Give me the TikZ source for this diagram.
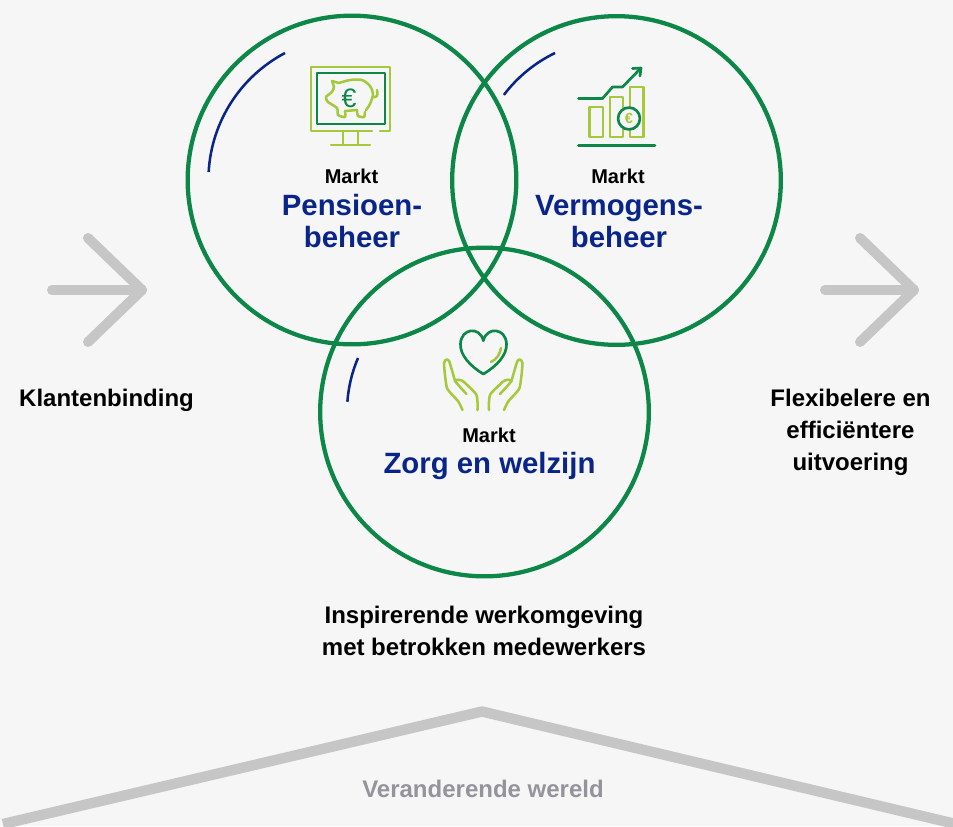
\documentclass[tikz,border=0pt]{standalone}
\usepackage{fontspec}
\setmainfont{Liberation Sans}
\newcommand{\lbl}{\fontsize{18pt}{24pt}\selectfont\bfseries}
\newcommand{\markt}{\fontsize{15pt}{18pt}\selectfont\bfseries}
\newcommand{\titel}{\fontsize{22pt}{24pt}\selectfont\bfseries}
\definecolor{achter}{HTML}{F6F6F6}
\definecolor{groen}{HTML}{0C8748}
\definecolor{lime}{HTML}{A6C93C}
\definecolor{blauw}{HTML}{0A2589}
\definecolor{grijs}{HTML}{C6C6C6}
\definecolor{tekstgrijs}{HTML}{94949C}
\tikzset{
  marktcircle/.style={circle,draw=groen,line width=3.2pt,minimum size=246.5pt,inner sep=0pt},
  bluearc/.style={blauw,line width=1.9pt},
  greyarrow/.style={grijs,line width=7.5pt,line cap=round,line join=round},
  iconlime/.style={lime,line width=1.9pt,line join=round,line cap=round},
  icongreen/.style={groen,line width=2pt,line join=round,line cap=round},
  txt/.style={black,align=center,inner sep=0pt,font=\lbl},
  markttxt/.style={black,inner sep=0pt,font=\markt},
  titeltxt/.style={blauw,align=center,inner sep=0pt,font=\titel}
}
\begin{document}
\begin{tikzpicture}[x=.75pt,y=-.75pt]
\useasboundingbox (0,0) rectangle (953,826);
\fill[achter] (0,0) rectangle (953,826);

% de drie markten
\node[marktcircle] (pensioen) at (352,180) {};
\node[marktcircle] (vermogen) at (616.5,180.5) {};
\node[marktcircle] (zorg) at (484.5,412) {};

\draw[bluearc] (285,53) arc[start angle=117.8,end angle=176.8,radius=107.6pt];
\draw[bluearc] (555,53) arc[start angle=115.8,end angle=142.9,radius=105.8pt];
\draw[bluearc] (358,358) arc[start angle=156.9,end angle=175.8,radius=102.8pt];

\node[markttxt] (marktp) at (351.5,176) {Markt};
\node[titeltxt] (titelp) at (352,225) {\strut Pensioen-\\beheer\strut};
\node[markttxt] (marktv) at (618,176) {Markt};
\node[titeltxt] (titelv) at (619,225) {\strut Vermogens-\\beheer\strut};
\node[markttxt] (marktz) at (489,435) {Markt};
\node[titeltxt] (titelz) at (489.5,467) {\strut Zorg en welzijn};

% pijlen links en rechts
\coordinate (linksa) at (52,290);
\coordinate (linksb) at (142,290);
\coordinate (linksc) at (88,238);
\coordinate (linksd) at (88,342);
\draw[greyarrow] (linksa) -- (linksb);
\draw[greyarrow] (linksc) -- (linksb) -- (linksd);
\coordinate (rechtsa) at (825,290);
\coordinate (rechtsb) at (914,290);
\coordinate (rechtsc) at (860,238);
\coordinate (rechtsd) at (860,342);
\draw[greyarrow] (rechtsa) -- (rechtsb);
\draw[greyarrow] (rechtsc) -- (rechtsb) -- (rechtsd);

\node[txt] (klant) at (106.5,400) {\strut Klantenbinding};
\node[txt] (flex) at (850.5,432) {\strut Flexibelere en\\efficiëntere\\uitvoering\strut};
\node[txt] (inspi) at (484,633) {\strut Inspirerende werkomgeving\\met betrokken medewerkers\strut};

% dak onderaan
\coordinate (dakl) at (3,824);
\coordinate (daktop) at (482,711.5);
\coordinate (dakr) at (960,825);
\draw[grijs,line width=7.8pt,line join=round] (dakl) -- (daktop) -- (dakr);
\node[txt,text=tekstgrijs] (wereld) at (483,791) {\strut Veranderende wereld};

% spaarvarken op scherm
\draw[iconlime] (372,131) -- (311,131) -- (311,67) -- (390,67) -- (390,131) -- (380,131);
\draw[icongreen] (317,73) rectangle (385,124);
\draw[iconlime] (343,131) -- (343,145);
\draw[iconlime] (358,131) -- (358,145);
\draw[iconlime] (331,145) -- (370,145);
\draw[iconlime] plot[smooth,tension=.5] coordinates {(339,83) (350,80) (362,80) (370,86) (373,94) (370,104) (366,110)};
\draw[iconlime] plot[smooth,tension=.4] coordinates {(365,112) (364,117) (358,116) (357,110)};
\draw[iconlime] (357,110) -- (345,111);
\draw[iconlime] plot[smooth,tension=.4] coordinates {(345,111) (345,117) (338,115) (337,108) (328,102) (326,97) (332,92) (334,87)};
\draw[iconlime] (334,87) -- (332,81) -- (339,83);
\draw[iconlime] plot[smooth,tension=.8] coordinates {(373,97) (377,96) (377,90)};
\node[text=groen,inner sep=0pt] (europ) at (349,98) {\fontsize{20pt}{20pt}\selectfont €};

% grafiek
\draw[iconlime] (589.5,107) rectangle (603,137);
\draw[iconlime] (610,97) rectangle (623,137);
\draw[iconlime] (630,87) rectangle (643.5,137);
\draw[icongreen,fill=achter] (629,118.5) circle (8.2pt);
\node[text=lime,inner sep=0pt] (eurog) at (629,118.5) {\fontsize{11pt}{12pt}\selectfont\bfseries €};
\draw[icongreen] (578.5,145.5) -- (655,145.5);
\draw[icongreen] (578.5,98.5) -- (602.5,98.5) -- (612.5,87) -- (622.5,87) -- (641,68);
\draw[icongreen] (632.5,68.5) -- (641,68) -- (640,76);

% hart en handen
\draw[icongreen] (483.3,374) .. controls (470,366) and (460,355) .. (460.5,344) .. controls (461,328) and (480,326) .. (483.3,340.7) .. controls (487,326) and (506,328) .. (506.5,344) .. controls (507,355) and (497,366) .. (483.3,374);
\draw[iconlime] (501,348) .. controls (500,354) and (497,359) .. (491,362);
\draw[iconlime] plot[smooth,tension=.35] coordinates {(462.5,410) (458,401) (447,388) (444,363) (447,359.5) (449.5,362) (455,381)};
\draw[iconlime] plot[smooth,tension=.35] coordinates {(466.5,394) (455,381) (460,380) (464,382) (476,394) (477.5,402) (477.5,410)};
\draw[iconlime] plot[smooth,tension=.35] coordinates {(504,410) (508.5,401) (519.5,388) (522.5,363) (519.5,359.5) (517,362) (511.5,381)};
\draw[iconlime] plot[smooth,tension=.35] coordinates {(500,394) (511.5,381) (506.5,380) (502.5,382) (490.5,394) (489,402) (489,410)};
\end{tikzpicture}
\end{document}
